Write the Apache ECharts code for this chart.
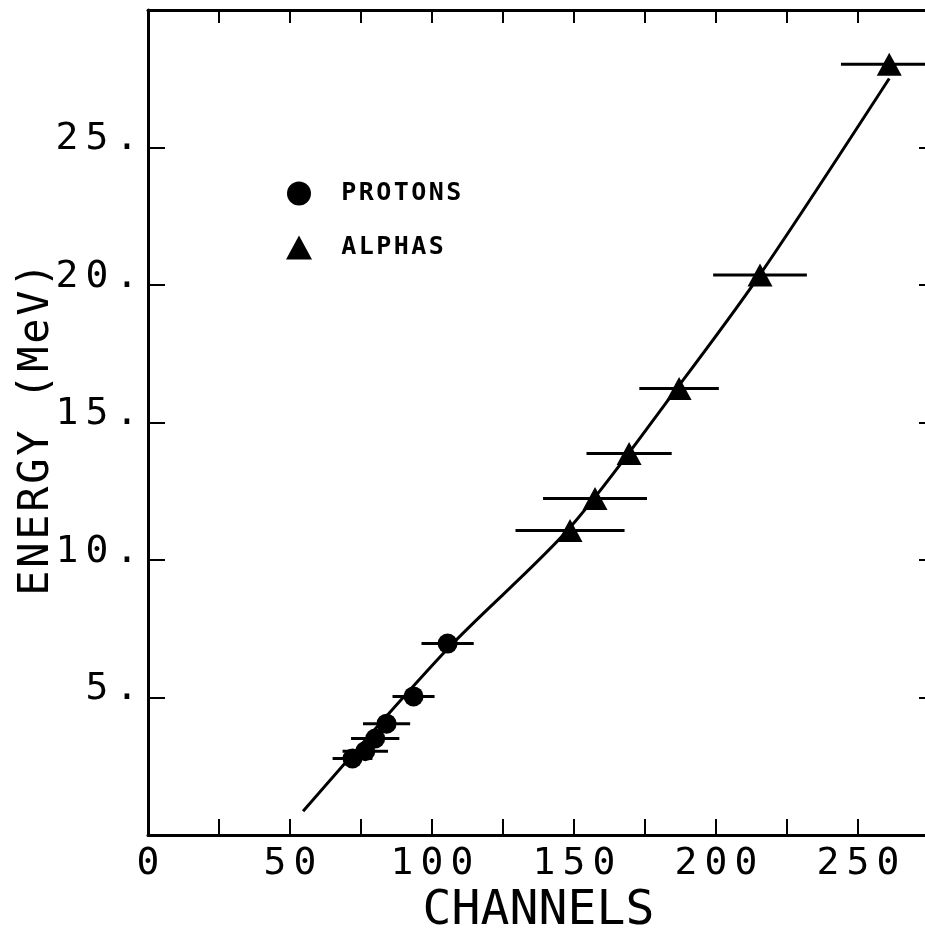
<!DOCTYPE html>
<html>
<head>
<meta charset="utf-8">
<script src="https://cdn.jsdelivr.net/npm/echarts@6/dist/echarts.min.js"></script>
<style>html,body{margin:0;padding:0;background:#fff;}#chart{width:925px;height:936px;}</style>
</head>
<body>
<div id="chart"></div>
<script>
// ---- data ----
const protonX   = [72, 76.5, 80, 84, 93.5, 105.5];
const protonY   = [2.78, 3.05, 3.51, 4.05, 5.04, 6.96];
const protonErr = [7.0, 8.0, 8.5, 8.3, 7.4, 9.2];

const alphaX    = [148.6, 157.4, 169.4, 187, 215.5, 261];
const alphaY    = [11.07, 12.24, 13.87, 16.24, 20.36, 28.03];
const alphaErr  = [19.2, 18.3, 15.0, 14.0, 16.5, 17.0];

const fitX = [54.6, 105.6, 148.6, 187, 215.5, 261];
const fitY = [0.86, 6.78, 11.18, 16.35, 20.38, 27.51];

const xTickLabels = [0, 50, 100, 150, 200, 250];
const yTickLabels = [5, 10, 15, 20, 25];
const legendNames = ['PROTONS', 'ALPHAS'];
const xTitle = 'CHANNELS';
const yTitle = 'ENERGY (MeV)';

// ---- helpers ----
const FONT = 'DejaVu Sans Mono';
function spaced(str, key) {
  return str.split('').map(ch => '{' + key + '|' + ch + '}').join('');
}
const pairs = (xs, ys) => xs.map((x, i) => [x, ys[i]]);
const errData = (xs, ys, es) => xs.map((x, i) => [x, ys[i], es[i]]);

function errRender(params, api) {
  const x = api.value(0), y = api.value(1), e = api.value(2);
  const p1 = api.coord([x - e, y]);
  const p2 = api.coord([x + e, y]);
  return {
    type: 'line',
    shape: { x1: p1[0], y1: p1[1], x2: p2[0], y2: p2[1] },
    style: { stroke: '#000', lineWidth: 3 }
  };
}

const chart = echarts.init(document.getElementById('chart'), null, { renderer: 'canvas' });

const axisCommon = {
  type: 'value',
  axisLine: { show: true, onZero: false, lineStyle: { color: '#000', width: 3 } },
  splitLine: { show: false }
};

const option = {
  backgroundColor: '#fff',
  animation: false,
  grid: { left: 148, right: -4, top: 10, bottom: 101, containLabel: false, outerBoundsMode: 'none' },
  legend: {
    data: legendNames,
    orient: 'vertical',
    left: 281,
    top: 176,
    itemWidth: 26,
    itemHeight: 24,
    itemGap: 29,
    selectedMode: false,
    formatter: name => '{s| }' + spaced(name, 'l'),
    textStyle: {
      color: '#000',
      rich: {
        s: { width: 23, fontSize: 24 },
        l: { width: 17.5, align: 'center', fontFamily: FONT, fontWeight: 'bold', fontSize: 25, color: '#000' }
      }
    }
  },
  xAxis: [
    Object.assign({}, axisCommon, {
      min: 0, max: 275, interval: 25, position: 'bottom',
      axisTick: { show: true, inside: true, length: 16, lineStyle: { color: '#000', width: 2 } },
      axisLabel: {
        margin: 10,
        formatter: v => xTickLabels.includes(v) ? spaced(String(v), 'd') : '',
        rich: { d: { width: 30, align: 'center', fontFamily: FONT, fontSize: 38, color: '#000' } }
      },
      name: spaced(xTitle, 'n'),
      nameLocation: 'middle',
      nameGap: 53,
      nameMoveOverlap: false,
      nameTextStyle: { rich: { n: { width: 29, align: 'center', fontFamily: FONT, fontSize: 48, color: '#000' } } }
    }),
    Object.assign({}, axisCommon, {
      min: 0, max: 275, interval: 25, position: 'top',
      axisTick: { show: true, inside: true, length: 13, lineStyle: { color: '#000', width: 2 } },
      axisLabel: { show: false }
    })
  ],
  yAxis: [
    Object.assign({}, axisCommon, {
      min: 0, max: 30, interval: 5, position: 'left',
      axisTick: { show: true, inside: true, length: 17, lineStyle: { color: '#000', width: 2 } },
      axisLabel: {
        margin: 6,
        padding: [0, 0, 16, 0],
        formatter: v => yTickLabels.includes(v) ? spaced(v + '.', 'd') : '',
        rich: { d: { width: 30, align: 'center', fontFamily: FONT, fontSize: 38, color: '#000' } }
      },
      name: spaced(yTitle, 'n'),
      nameLocation: 'middle',
      nameGap: 90,
      nameRotate: 90,
      nameMoveOverlap: false,
      nameTextStyle: {
        padding: [0, 13, 0, 0],
        rich: { n: { width: 28, align: 'center', fontFamily: FONT, fontSize: 42, color: '#000' } }
      }
    }),
    Object.assign({}, axisCommon, {
      min: 0, max: 30, interval: 5, position: 'right',
      axisTick: { show: true, inside: true, length: 10, lineStyle: { color: '#000', width: 2 } },
      axisLabel: { show: false }
    })
  ],
  series: [
    {
      name: 'fit', type: 'line', data: pairs(fitX, fitY), smooth: 0.3,
      showSymbol: false, symbol: 'none',
      lineStyle: { color: '#000', width: 3 }, z: 1
    },
    {
      name: 'protonErr', type: 'custom', renderItem: errRender,
      data: errData(protonX, protonY, protonErr), z: 2
    },
    {
      name: 'alphaErr', type: 'custom', renderItem: errRender,
      data: errData(alphaX, alphaY, alphaErr), z: 2
    },
    {
      name: 'PROTONS', type: 'scatter', data: pairs(protonX, protonY),
      symbol: 'circle', symbolSize: 20, itemStyle: { color: '#000', opacity: 1 }, z: 3
    },
    {
      name: 'ALPHAS', type: 'scatter', data: pairs(alphaX, alphaY),
      symbol: 'triangle', symbolSize: [25, 23], itemStyle: { color: '#000', opacity: 1 }, z: 3
    }
  ]
};
chart.setOption(option);
</script>
</body>
</html>
